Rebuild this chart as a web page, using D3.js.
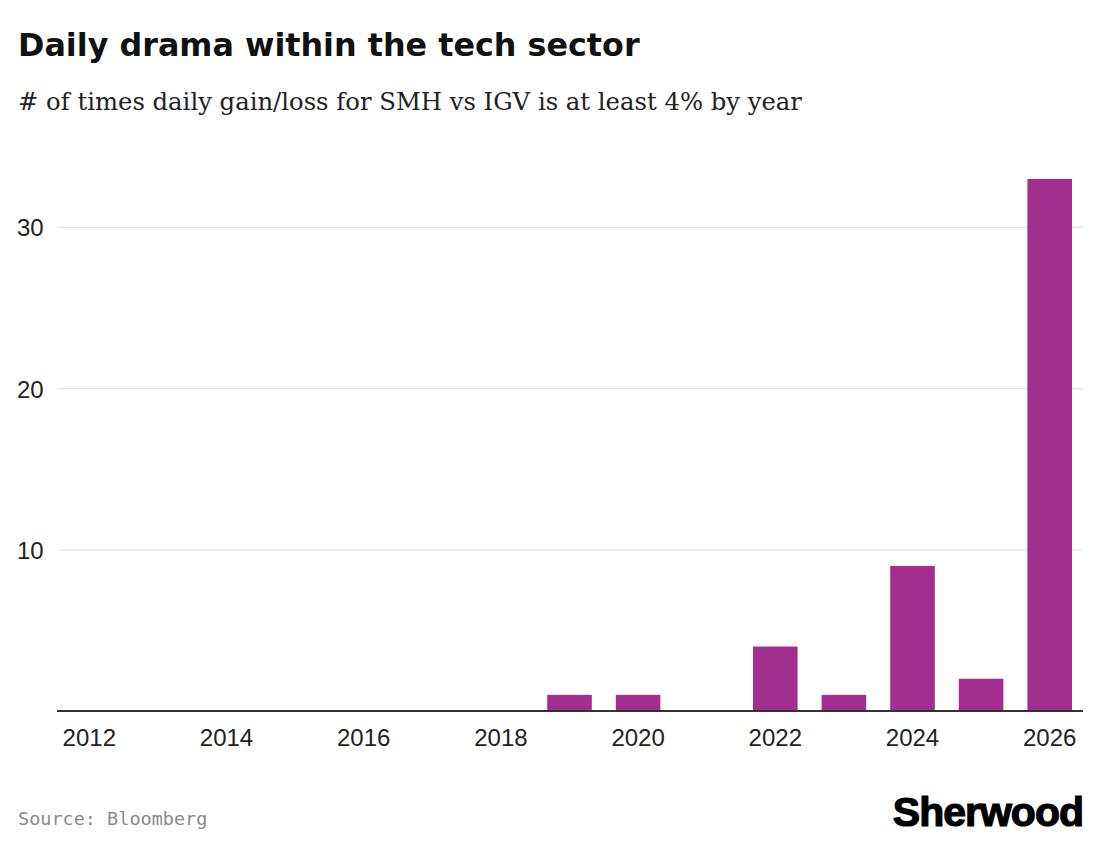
<!DOCTYPE html>
<html>
<head>
<meta charset="utf-8">
<script src="https://cdn.jsdelivr.net/npm/d3@7"></script>
<style>
  body { margin: 0; background: #fff; }
  svg { display: block; }
</style>
</head>
<body>
<div id="chart"></div>
<script>
// data
const years = d3.range(2012, 2027);
const counts = [0, 0, 0, 0, 0, 0, 0, 1, 1, 0, 4, 1, 9, 2, 33];
const yTicks = [10, 20, 30];
const xTicks = [2012, 2014, 2016, 2018, 2020, 2022, 2024, 2026];

const W = 1100, H = 850;

const svg = d3.select("#chart").append("svg")
    .attr("width", W)
    .attr("height", H);

const x = d3.scaleBand()
    .domain(years)
    .range([55, 1084])
    .paddingInner(0.35)
    .paddingOuter(0.175);

const y = d3.scaleLinear()
    .domain([0, 33])
    .range([711, 179]);

// titles
svg.append("text")
    .attr("x", 18).attr("y", 56)
    .style("font-family", "'DejaVu Sans', sans-serif")
    .style("font-weight", "bold")
    .style("font-size", "31.8px")
    .style("fill", "#111")
    .text("Daily drama within the tech sector");

svg.append("text")
    .attr("x", 18).attr("y", 110)
    .style("font-family", "'DejaVu Serif', serif")
    .style("font-size", "24.3px")
    .style("fill", "#222")
    .text("# of times daily gain/loss for SMH vs IGV is at least 4% by year");

// grid
svg.append("g")
    .selectAll("line")
    .data(yTicks)
    .join("line")
    .attr("x1", 58).attr("x2", 1083)
    .attr("y1", d => y(d)).attr("y2", d => y(d))
    .attr("stroke", "#e4e4e4")
    .attr("stroke-width", 1.2);

// y labels
svg.append("g")
    .selectAll("text")
    .data(yTicks)
    .join("text")
    .attr("x", 17)
    .attr("y", d => y(d) + 9)
    .style("font-family", "'Liberation Sans', Arial, sans-serif")
    .style("font-size", "24px")
    .style("fill", "#222")
    .text(d => d);

// bars
svg.append("g")
    .selectAll("rect")
    .data(years.map((yr, i) => ({ yr, v: counts[i] })).filter(d => d.v > 0))
    .join("rect")
    .attr("x", d => x(d.yr))
    .attr("width", x.bandwidth())
    .attr("y", d => y(d.v))
    .attr("height", d => y(0) - y(d.v))
    .attr("fill", "#a22e8e");

// baseline
svg.append("line")
    .attr("x1", 57).attr("x2", 1083)
    .attr("y1", y(0)).attr("y2", y(0))
    .attr("stroke", "#333")
    .attr("stroke-width", 2);

// x labels
svg.append("g")
    .selectAll("text")
    .data(xTicks)
    .join("text")
    .attr("x", d => x(d) + x.bandwidth() / 2)
    .attr("y", 746)
    .attr("text-anchor", "middle")
    .style("font-family", "'Liberation Sans', Arial, sans-serif")
    .style("font-size", "24px")
    .style("fill", "#222")
    .text(d => d);

// footer
svg.append("text")
    .attr("x", 18).attr("y", 825)
    .style("font-family", "'DejaVu Sans Mono', 'Liberation Mono', monospace")
    .style("font-size", "18.5px")
    .style("fill", "#8a8a8a")
    .text("Source: Bloomberg");

svg.append("text")
    .attr("x", 1083).attr("y", 826)
    .attr("text-anchor", "end")
    .style("font-family", "'Liberation Sans', Arial, sans-serif")
    .style("font-weight", "900")
    .style("font-size", "41px")
    .style("letter-spacing", "-1px")
    .style("fill", "#000")
    .style("stroke", "#000")
    .style("stroke-width", "1.2px")
    .text("Sherwood");
</script>
</body>
</html>
